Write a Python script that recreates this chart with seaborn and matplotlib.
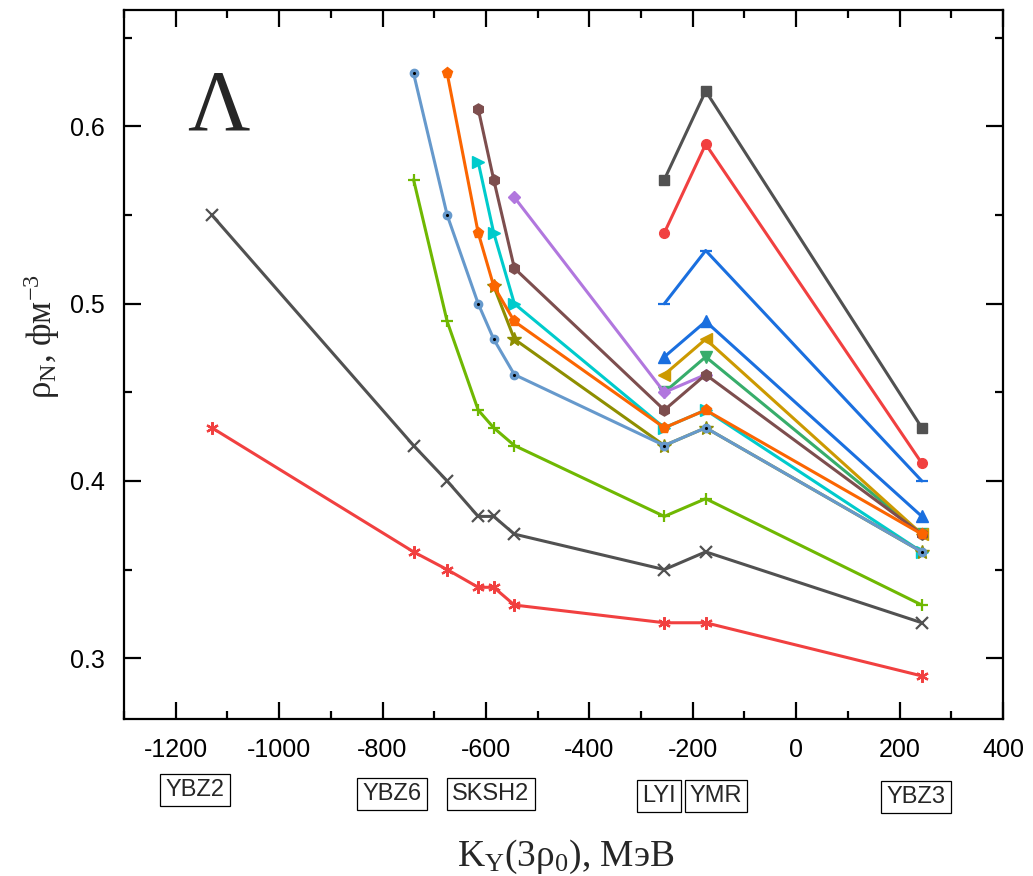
import pandas as pd
import matplotlib
matplotlib.use("Agg")
import matplotlib.pyplot as plt
from matplotlib.ticker import MultipleLocator
import seaborn as sns

# K_Y(3rho0) values of the parametrisations, MeV
K_YBZ2 = -1130
K_YBZ6 = -740
K_A = -675
K_B = -615
K_C = -585
K_SKSH2 = -545
K_LYI = -255
K_YMR = -175
K_YBZ3 = 243

# one curve per hyperon fraction (x values, rho_N values)
s01_x = [K_LYI, K_YMR, K_YBZ3]
s01_y = [0.57, 0.62, 0.43]
s02_x = [K_LYI, K_YMR, K_YBZ3]
s02_y = [0.54, 0.59, 0.41]
s03_x = [K_LYI, K_YMR, K_YBZ3]
s03_y = [0.47, 0.49, 0.38]
s04_x = [K_LYI, K_YMR, K_YBZ3]
s04_y = [0.45, 0.47, 0.37]
s05_x = [K_SKSH2, K_LYI, K_YMR]
s05_y = [0.56, 0.45, 0.46]
s06_x = [K_LYI, K_YMR, K_YBZ3]
s06_y = [0.46, 0.48, 0.37]
s07_x = [K_B, K_C, K_SKSH2, K_LYI, K_YMR, K_YBZ3]
s07_y = [0.58, 0.54, 0.50, 0.43, 0.44, 0.36]
s08_x = [K_B, K_C, K_SKSH2, K_LYI, K_YMR, K_YBZ3]
s08_y = [0.61, 0.57, 0.52, 0.44, 0.46, 0.37]
s09_x = [K_C, K_SKSH2, K_LYI, K_YMR, K_YBZ3]
s09_y = [0.51, 0.48, 0.42, 0.43, 0.36]
s10_x = [K_A, K_B, K_C, K_SKSH2, K_LYI, K_YMR, K_YBZ3]
s10_y = [0.63, 0.54, 0.51, 0.49, 0.43, 0.44, 0.37]
s11_x = [K_YBZ6, K_A, K_B, K_C, K_SKSH2, K_LYI, K_YMR, K_YBZ3]
s11_y = [0.63, 0.55, 0.50, 0.48, 0.46, 0.42, 0.43, 0.36]
s12_x = [K_YBZ6, K_A, K_B, K_C, K_SKSH2, K_LYI, K_YMR, K_YBZ3]
s12_y = [0.57, 0.49, 0.44, 0.43, 0.42, 0.38, 0.39, 0.33]
s13_x = [K_YBZ2, K_YBZ6, K_A, K_B, K_C, K_SKSH2, K_LYI, K_YMR, K_YBZ3]
s13_y = [0.55, 0.42, 0.40, 0.38, 0.38, 0.37, 0.35, 0.36, 0.32]
s14_x = [K_YBZ2, K_YBZ6, K_A, K_B, K_C, K_SKSH2, K_LYI, K_YMR, K_YBZ3]
s14_y = [0.43, 0.36, 0.35, 0.34, 0.34, 0.33, 0.32, 0.32, 0.29]
s15_x = [K_LYI, K_YMR, K_YBZ3]
s15_y = [0.50, 0.53, 0.40]

series_x = [s01_x, s02_x, s03_x, s04_x, s05_x, s06_x, s07_x, s08_x,
            s09_x, s10_x, s11_x, s12_x, s13_x, s14_x, s15_x]
series_y = [s01_y, s02_y, s03_y, s04_y, s05_y, s06_y, s07_y, s08_y,
            s09_y, s10_y, s11_y, s12_y, s13_y, s14_y, s15_y]

# Origin-like colour / symbol cycle
colors = ['#515151', '#F14040', '#1A6FDF', '#37AD6B', '#B177DE', '#CC9900',
          '#00CBCC', '#7D4E4E', '#8E8E00', '#FB6501', '#6699CC', '#6FB802',
          '#515151', '#F14040', '#1A6FDF']
markers = ['s', 'o', '^', 'v', 'D', '<', '>', 'h', '*', 'p', 'o', '+', 'x',
           (6, 2, 0), '_']
msizes = [7, 7, 8, 8, 6, 8, 8, 8, 10, 8, 6, 9, 8, 9, 9]

model_names = ['YBZ2', 'YBZ6', 'SKSH2', 'LYI', 'YMR', 'YBZ3']
# label box centres in figure pixels
name_pos = [(195, 790), (392, 794), (491, 794), (659, 796), (716, 796), (916, 797)]

rows = []
for i, (xs, ys) in enumerate(zip(series_x, series_y)):
    for x, y in zip(xs, ys):
        rows.append({'series': i, 'K': x, 'rho': y})
df = pd.DataFrame(rows)

sns.set_theme(style='ticks')
plt.rcParams['font.family'] = ['Liberation Sans', 'DejaVu Sans']
plt.rcParams['axes.unicode_minus'] = False
plt.rcParams['mathtext.fontset'] = 'custom'
plt.rcParams['mathtext.rm'] = 'Liberation Serif'
plt.rcParams['mathtext.it'] = 'Liberation Serif:italic'

W, H = 1033, 876
fig = plt.figure(figsize=(W / 100, H / 100), dpi=100)
ax = fig.add_axes([124 / W, 1 - 719 / H, (1003 - 124) / W, (719 - 10) / H])

for i in range(len(series_x)):
    sub = df[df['series'] == i]
    mew = 1.6 if markers[i] in ('+', 'x', '_') or isinstance(markers[i], tuple) else 1.0
    sns.lineplot(data=sub, x='K', y='rho', ax=ax, color=colors[i], lw=2.2,
                 marker=markers[i], markersize=msizes[i], markeredgecolor=colors[i],
                 markeredgewidth=mew, legend=False)
    if i == 10:
        ax.plot(sub['K'], sub['rho'], ls='none', marker='.', color='black',
                markersize=2.5)

ax.set_xlim(-1300, 400)
ax.set_ylim(0.2657, 0.6657)
ax.xaxis.set_major_locator(MultipleLocator(200))
ax.xaxis.set_minor_locator(MultipleLocator(100))
ax.yaxis.set_major_locator(MultipleLocator(0.1))
ax.yaxis.set_minor_locator(MultipleLocator(0.05))
ax.tick_params(which='both', direction='in', top=True, right=True,
               width=1.6, labelsize=18, colors='black')
ax.tick_params(which='major', length=12, pad=14)
ax.tick_params(which='minor', length=6)
for sp in ax.spines.values():
    sp.set_linewidth(1.6)
    sp.set_color('black')

ax.set_xlabel('')
ax.set_ylabel('')

fig.text(42 / W, 1 - 336 / H, 'ρ$_\\mathrm{N}$, фм$^{-3}$', rotation=90,
         ha='center', va='center', fontsize=25, family='Liberation Serif')
fig.text(566 / W, 1 - 857 / H, 'K$_\\mathrm{Y}$(3ρ$_\\mathrm{0}$), МэВ',
         ha='center', va='center', fontsize=27, family='Liberation Serif')
fig.text(218 / W, 1 - 109 / H, 'Λ', ha='center', va='center', fontsize=62,
         family='Liberation Serif')

for name, (px, py) in zip(model_names, name_pos):
    fig.text(px / W, 1 - py / H, name, ha='center', va='center', fontsize=17,
             bbox=dict(boxstyle='square,pad=0.22', fc='white', ec='black', lw=0.9))

fig.savefig('out.png', dpi=100)
